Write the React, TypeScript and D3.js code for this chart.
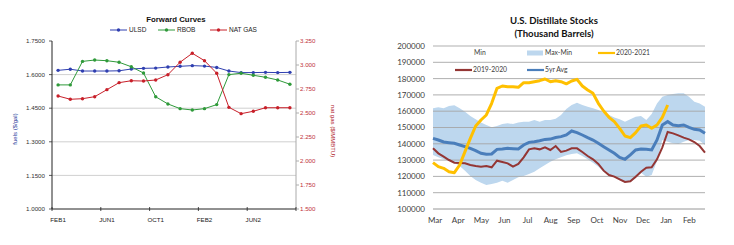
import * as d3 from "d3"

// ---- Forward Curves (left) ----
const fcMonths = [
  "FEB1", "MAR1", "APR1", "MAY1", "JUN1", "JUL1", "AUG1", "SEP1", "OCT1", "NOV1",
  "DEC1", "JAN2", "FEB2", "MAR2", "APR2", "MAY2", "JUN2", "JUL2", "AUG2", "SEP2",
]
const ulsd = [
  1.619, 1.624, 1.616, 1.616, 1.616, 1.617, 1.625, 1.628, 1.629, 1.634,
  1.637, 1.64, 1.638, 1.632, 1.616, 1.609, 1.609, 1.61, 1.609, 1.61,
]
const rbob = [
  1.554, 1.554, 1.659, 1.665, 1.662, 1.655, 1.635, 1.607, 1.501, 1.469,
  1.448, 1.442, 1.448, 1.466, 1.6, 1.606, 1.597, 1.588, 1.576, 1.557,
]
const natGas = [
  2.677, 2.643, 2.649, 2.67, 2.743, 2.816, 2.836, 2.833, 2.844, 2.899,
  3.029, 3.122, 3.045, 2.914, 2.559, 2.493, 2.518, 2.555, 2.555, 2.555,
]
const fuelTicks = [1.0, 1.15, 1.3, 1.45, 1.6, 1.75]
const gasTicks = [1.5, 1.75, 2.0, 2.25, 2.5, 2.75, 3.0, 3.25]

// ---- U.S. Distillate Stocks (right), weekly Mar..Feb ----
const monthLabels = ["Mar", "Apr", "May", "Jun", "Jul", "Aug", "Sep", "Oct", "Nov", "Dec", "Jan", "Feb"]
const stockMin = [
  133130, 131700, 130470, 129650, 128430, 126380, 123520, 120250, 117790, 116150,
  114720, 115340, 116150, 117380, 116150, 117790, 119430, 120250, 121470, 122900,
  124950, 126990, 129040, 130470, 131700, 132920, 133740, 134150, 132520, 130470,
  128430, 125970, 122900, 120860, 119430, 117790, 116560, 116560, 118810, 122290,
  119840, 120860, 129500, 142330, 141310, 140290, 139880, 141310, 142330, 142330,
  141920, 139260,
]
const stockMax = [
  161800, 162400, 161800, 163200, 163600, 161800, 159700, 157100, 155000, 153000,
  151500, 150100, 150900, 152100, 152600, 152100, 153000, 153600, 153600, 154600,
  153600, 154600, 154600, 155400, 157700, 161300, 163800, 165200, 163800, 162800,
  161800, 160700, 159100, 157700, 156200, 155000, 153600, 155000, 156600, 157100,
  154600, 158300, 164800, 168900, 169900, 170600, 171000, 171000, 168900, 165800,
  164800, 162800,
]
const stockAvg = [
  143350, 142330, 141100, 140700, 140290, 139270, 138250, 137230, 135800, 134160,
  133550, 133760, 136600, 136800, 137200, 137000, 136800, 139270, 140900, 141300,
  141900, 142700, 142900, 143900, 144400, 145400, 147850, 146830, 145400, 143760,
  142330, 140290, 138250, 136200, 134160, 131700, 130500, 133150, 136200, 136800,
  136600, 136200, 142330, 151540, 153600, 151540, 151130, 151540, 150100, 148900,
  148500, 146420,
]
const stock1920 = [
  137220, 134150, 132110, 130060, 128430, 128220, 128020, 127000, 126380, 125970,
  126380, 125560, 129650, 128830, 128020, 125970, 127610, 131700, 136600, 137220,
  136600, 137830, 136200, 138650, 134970, 135800, 137220, 137220, 134970, 132520,
  130470, 127610, 123520, 120860, 119840, 118200, 116560, 116970, 119840, 122910,
  125360, 125560, 130470, 137830, 147240, 146420, 145190, 143760, 142740, 141100,
  138650, 134560,
]
const stock2021 = [
  128430, 125970, 124950, 122900, 122290, 126990, 135170, 143350, 150920, 154600,
  157670, 164830, 174030, 175460, 175050, 175050, 174640, 177510, 177510, 178120,
  178730, 179750, 178120, 178730, 178120, 176800, 178530, 179550, 175460, 173000,
  170960, 164830, 160120, 156240, 153580, 149490, 144790, 143760, 146830, 150920,
  151540, 149490, 151540, 156240, 163800,
]
const stockTicks = [100000, 110000, 120000, 130000, 140000, 150000, 160000, 170000, 180000, 190000, 200000]

const arial = "'Liberation Sans', Arial, sans-serif"
const calibri = "Lato, 'Open Sans', sans-serif"

function ForwardCurves() {
  const left = 52, right = 296, top = 41, bottom = 209
  const x = d3.scaleBand<string>().domain(fcMonths).range([left, right])
  const cx = (i: number) => (x(fcMonths[i]) ?? 0) + x.bandwidth() / 2
  const yL = d3.scaleLinear().domain([1.0, 1.75]).range([bottom, top])
  const yR = d3.scaleLinear().domain([1.5, 3.25]).range([bottom, top])

  const lineL = d3.line<number>().x((_, i) => cx(i)).y((d) => yL(d))
  const lineR = d3.line<number>().x((_, i) => cx(i)).y((d) => yR(d))

  const series = [
    { name: "ULSD", values: ulsd, color: "#2f3fb0", gen: lineL },
    { name: "RBOB", values: rbob, color: "#2f9a3a", gen: lineL },
    { name: "NAT GAS", values: natGas, color: "#c8202a", gen: lineR },
  ]
  const legendX = [110, 158, 210]

  return (
    <g fontFamily={arial}>
      <text x={176} y={22} textAnchor="middle" fontSize={7.8} fontWeight="bold" fill="#111">
        Forward Curves
      </text>
      {series.map((s, k) => (
        <g key={s.name}>
          <line x1={legendX[k]} x2={legendX[k] + 17} y1={30} y2={30} stroke={s.color} strokeWidth={1} />
          <circle cx={legendX[k] + 8.5} cy={30} r={1.7} fill={s.color} />
          <text x={legendX[k] + 19} y={32.3} fontSize={6.5} fill="#222">{s.name}</text>
        </g>
      ))}
      {fuelTicks.slice(1, -1).map((t) => (
        <line key={t} x1={left} x2={right} y1={yL(t)} y2={yL(t)} stroke="#c4c4c4" strokeWidth={0.8} />
      ))}
      {fuelTicks.map((t) => (
        <g key={t}>
          <line x1={left - 3} x2={left} y1={yL(t)} y2={yL(t)} stroke="#333" strokeWidth={0.8} />
          <text x={45} y={yL(t) + 2.2} textAnchor="end" fontSize={6.2} fill="#333">
            {d3.format(".4f")(t)}
          </text>
        </g>
      ))}
      {gasTicks.map((t) => (
        <g key={t}>
          <line x1={right} x2={right + 3} y1={yR(t)} y2={yR(t)} stroke="#999" strokeWidth={0.8} />
          <text x={300} y={yR(t) + 2.2} fontSize={6.2} fill="#c0303a">
            {d3.format(".3f")(t)}
          </text>
        </g>
      ))}
      <line x1={left} x2={left} y1={top} y2={bottom} stroke="#222" strokeWidth={1} />
      <line x1={right} x2={right} y1={top} y2={bottom} stroke="#aaa" strokeWidth={1} />
      <line x1={left} x2={right} y1={bottom} y2={bottom} stroke="#222" strokeWidth={1} />
      {fcMonths.map((m, i) =>
        i % 4 === 0 ? (
          <g key={m}>
            <line x1={x(m)} x2={x(m)} y1={bottom - 2} y2={bottom + 2} stroke="#222" strokeWidth={0.8} />
            <text x={cx(i)} y={221.5} textAnchor="middle" fontSize={6.2} fill="#222">{m}</text>
          </g>
        ) : null
      )}
      <line x1={right} x2={right} y1={bottom - 2} y2={bottom + 2} stroke="#222" strokeWidth={0.8} />
      <text transform="translate(17,129) rotate(-90)" textAnchor="middle" fontSize={6} fill="#2a3a9a">
        fuels ($/gal)
      </text>
      <text transform="translate(331,131) rotate(90)" textAnchor="middle" fontSize={6} fill="#b0202a">
        nat gas ($/MMBTU)
      </text>
      {series.map((s) => (
        <g key={s.name}>
          <path d={s.gen(s.values) ?? ""} fill="none" stroke={s.color} strokeWidth={1} />
          {s.values.map((v, i) => (
            <circle key={i} cx={cx(i)} cy={s.gen === lineL ? yL(v) : yR(v)} r={1.7} fill={s.color} />
          ))}
        </g>
      ))}
    </g>
  )
}

function DistillateStocks() {
  const left = 433, right = 705, top = 46, bottom = 209
  const x = d3.scaleLinear().domain([0, stockAvg.length - 1]).range([left, right])
  const y = d3.scaleLinear().domain([100000, 200000]).range([bottom, top])
  const weeksPerMonth = stockAvg.length / 12

  const band = d3.area<number>()
    .x((_, i) => x(i))
    .y0((_, i) => y(stockMin[i]))
    .y1((d) => y(d))
  const line = d3.line<number>().x((_, i) => x(i)).y((d) => y(d))

  const legendRows = [
    [
      { name: "Min", kind: "none", color: "none" },
      { name: "Max-Min", kind: "rect", color: "#bdd7ee" },
      { name: "2020-2021", kind: "line", color: "#ffc000" },
    ],
    [
      { name: "2019-2020", kind: "line", color: "#943634" },
      { name: "5yr Avg", kind: "line", color: "#4a7ebb" },
    ],
  ]
  const colX = [455, 527, 598]
  const rowY = [53, 70]

  return (
    <g fontFamily={calibri}>
      <text x={554} y={24} textAnchor="middle" fontSize={9.6} fontWeight="bold" fill="#111">
        U.S. Distillate Stocks
      </text>
      <text x={554} y={37} textAnchor="middle" fontSize={9.6} fontWeight="bold" fill="#111">
        (Thousand Barrels)
      </text>
      <path d={band(stockMax) ?? ""} fill="#bdd7ee" />
      {stockTicks.map((t) => (
        <g key={t}>
          <line x1={left} x2={right} y1={y(t)} y2={y(t)} stroke={t === 100000 ? "#8a8a8a" : "#a6a6a6"} strokeWidth={0.9} />
          <text x={425} y={y(t) + 2.9} textAnchor="end" fontSize={8} fill="#404040">{t}</text>
        </g>
      ))}
      {monthLabels.map((m, k) => (
        <text key={m} x={x(0.4 + k * weeksPerMonth)} y={223} textAnchor="middle" fontSize={8} fill="#404040">
          {m}
        </text>
      ))}
      {legendRows.map((row, r) =>
        row.map((it, c) => (
          <g key={it.name}>
            {it.kind === "line" && (
              <line x1={colX[c]} x2={colX[c] + 17} y1={rowY[r]} y2={rowY[r]} stroke={it.color} strokeWidth={2.2} />
            )}
            {it.kind === "rect" && (
              <rect x={colX[c]} y={rowY[r] - 2.5} width={16} height={5} fill={it.color} />
            )}
            <text x={colX[c] + (it.kind === "none" ? 19 : 18)} y={rowY[r] + 2.3} fontSize={6.8} fill="#404040">
              {it.name}
            </text>
          </g>
        ))
      )}
      <path d={line(stock1920) ?? ""} fill="none" stroke="#943634" strokeWidth={2} />
      <path d={line(stockAvg) ?? ""} fill="none" stroke="#4a7ebb" strokeWidth={3} />
      <path d={line(stock2021) ?? ""} fill="none" stroke="#ffc000" strokeWidth={3} strokeLinejoin="round" />
    </g>
  )
}

export default function App() {
  return (
    <div style={{ position: "absolute", left: 0, top: 0 }}>
      <svg width={734} height={245} style={{ display: "block", background: "#fff" }}>
        <ForwardCurves />
        <DistillateStocks />
      </svg>
    </div>
  )
}
